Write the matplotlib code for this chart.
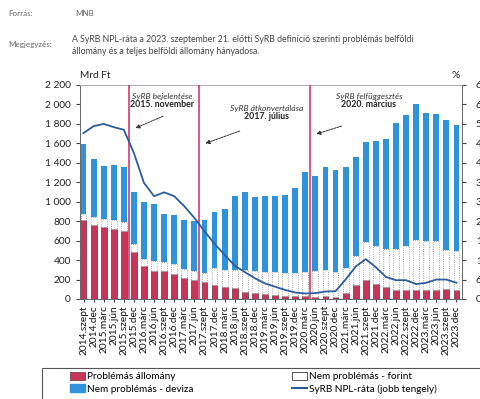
import numpy as np
import matplotlib
matplotlib.use('Agg')
import matplotlib.pyplot as plt
from matplotlib.patches import Patch, Rectangle
from matplotlib.lines import Line2D
from matplotlib.ticker import FuncFormatter

plt.rcParams['font.family'] = ['Lato', 'DejaVu Sans']

# negyedéves időpontok
quarters = ['2014.szept', '2014.dec']
for year in range(2015, 2024):
    quarters += [f'{year}.márc', f'{year}.jún', f'{year}.szept', f'{year}.dec']

# Mrd Ft
problemas = [816, 764, 740, 723, 696, 480, 336, 291, 284, 260, 220, 195, 175,
             145, 120, 108, 72, 57, 50, 43, 34, 32, 32, 25, 31, 25, 60, 140,
             197, 150, 122, 91, 97, 90, 97, 97, 100, 91]
forint = [61, 76, 86, 93, 92, 85, 75, 96, 93, 100, 90, 90, 90, 173, 176, 187,
          223, 228, 230, 237, 232, 238, 246, 260, 264, 250, 262, 305, 391, 390,
          388, 424, 448, 515, 497, 497, 408, 399]
deviza = [720, 603, 545, 562, 569, 538, 590, 590, 500, 500, 502, 520, 544, 573,
          629, 767, 802, 760, 775, 775, 803, 875, 1028, 983, 1059, 1048, 1032,
          1015, 1026, 1088, 1135, 1294, 1350, 1400, 1322, 1305, 1332, 1295]
# %
npl_rata = [51.2, 53.3, 54.0, 53.0, 52.2, 45.0, 35.8, 31.7, 32.9, 31.7, 28.6,
            25.0, 20.9, 17.0, 13.6, 10.3, 8.3, 6.4, 4.8, 3.8, 2.8, 2.0, 1.7,
            1.8, 2.3, 2.4, 6.0, 10.0, 12.3, 9.8, 6.8, 5.8, 5.8, 4.6, 5.0, 6.0,
            6.0, 5.0]

# események: (pozíció a tengelyen, 1. sor, 2. sor)
events = [(4.5, 'SyRB bejelentése', '2015. november'),
          (11.5, 'SyRB átkonvertálása', '2017. július'),
          (22.5, 'SyRB felfüggesztés', '2020. március')]

RED = '#c73658'
BLUE = '#2f93dc'
LINE = '#2b5c9e'
VLINE = '#d63a6e'

x = np.arange(len(quarters))
problemas = np.array(problemas)
forint = np.array(forint)
deviza = np.array(deviza)

fig = plt.figure(figsize=(4.8, 3.99), dpi=100)
ax = fig.add_axes([80/480, 1-299/399, 382/480, 214/399])

w = 0.58
ax.bar(x, problemas, w, color=RED, edgecolor='#6b2a3a', lw=0.5, zorder=2)
ax.bar(x, forint, w, bottom=problemas, color='white', edgecolor='#8a8a8a',
       lw=0.6, ls=':', zorder=2)
ax.bar(x, deviza, w, bottom=problemas + forint, color=BLUE, lw=0, zorder=2)

for pos, _, _ in events:
    ax.axvline(pos, color=VLINE, lw=1.2, zorder=3)

ax.set_xlim(-0.35, len(quarters) - 0.45)
ax.set_ylim(0, 2200)
ax.set_yticks(np.arange(0, 2201, 200))
ax.yaxis.set_major_formatter(FuncFormatter(lambda v, p: f'{v:,.0f}'.replace(',', ' ')))
ax.set_xticks(x)
ax.set_xticklabels(quarters, rotation=90, fontsize=7.3, color='#111')
ax.tick_params(axis='y', labelsize=7.3, length=3, color='#444', labelcolor='#222')
ax.tick_params(axis='x', length=2.5, color='#444', pad=2)
for s in ax.spines.values():
    s.set_color('#666')
    s.set_linewidth(0.7)
ax.spines['top'].set_color('#aaa')

ax2 = ax.twinx()
ax2.plot(x, npl_rata, color=LINE, lw=1.3, zorder=4)
ax2.set_ylim(0, 66)
ax2.set_yticks(np.arange(0, 67, 6))
ax2.tick_params(axis='y', labelsize=7.5, length=3, pad=7, color='#444', labelcolor='#222')
for s in ax2.spines.values():
    s.set_visible(False)

# események feliratai nyíllal
labels = [((7.8, 2050), (7.9, 1880), (5.15, 1757)),
          ((18.2, 1920), (15.5, 1727), (12.1, 1600)),
          ((28.3, 2050), (25.6, 1778), (23.1, 1696))]
for (pos, line1, line2), (txt, tail, tip) in zip(events, labels):
    ax.text(txt[0], txt[1], line1, ha='center', va='bottom', fontsize=6.1,
            style='italic', color='#333', zorder=5)
    ax.text(txt[0], txt[1], line2, ha='center', va='top', fontsize=6.3,
            fontweight='bold', color='#222', zorder=5)
    ax.annotate('', xy=tip, xytext=tail, zorder=5,
                arrowprops=dict(arrowstyle='-|>', color='#333', lw=0.7,
                                ls=(0, (2, 1)), mutation_scale=6,
                                shrinkA=0, shrinkB=0))

fig.text(80/480, 1-76/399, 'Mrd Ft', fontsize=7.3, color='#222', va='center')
fig.text(452/480, 1-76/399, '%', fontsize=7.3, color='#222', va='center')

# fejléc
grey = '#666'
fig.text(8/480, 1-14/399, 'Forrás:', fontsize=5.8, color=grey, va='center')
fig.text(75/480, 1-14/399, 'MNB', fontsize=5.8, color=grey, va='center')
fig.text(8/480, 1-45/399, 'Megjegyzés:', fontsize=5.8, color=grey, va='center')
fig.text(72/480, 1-40/399,
         'A SyRB NPL-ráta a 2023. szeptember 21. előtti SyRB definíció szerinti problémás belföldi',
         fontsize=6.3, color='#444', va='center')
fig.text(72/480, 1-51/399, 'állomány és a teljes belföldi állomány hányadosa.',
         fontsize=6.3, color='#444', va='center')

# jelmagyarázat: két oszlop, közös kerettel
col1 = ([Patch(facecolor=RED, edgecolor='#6b2a3a', lw=0.5),
         Patch(facecolor=BLUE, edgecolor=BLUE)],
        ['Problémás állomány', 'Nem problémás - deviza'])
col2 = ([Patch(facecolor='white', edgecolor='#555', lw=0.7),
         Line2D([], [], color=LINE, lw=1.5)],
        ['Nem problémás - forint', 'SyRB NPL-ráta (jobb tengely)'])
for (h, n), x0 in zip([col1, col2], [70, 292]):
    fig.legend(h, n, loc='upper left', bbox_to_anchor=(x0/480, 1-372/399),
               fontsize=7.2, frameon=False, borderpad=0, labelspacing=0.3,
               handlelength=1.5, handleheight=0.8, handletextpad=0.2,
               borderaxespad=0)
fig.add_artist(Rectangle((42/480, -0.05), 0.99, 1-368/399 + 0.05,
                         transform=fig.transFigure, fill=False,
                         edgecolor='#555', lw=0.8))

fig.savefig('out.png', dpi=100)
